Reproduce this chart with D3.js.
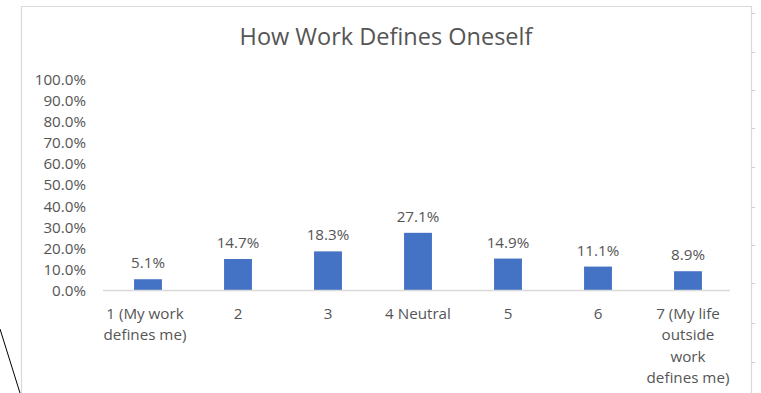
<!DOCTYPE html>
<html>
<head>
<meta charset="utf-8">
<script src="https://cdn.jsdelivr.net/npm/d3@7"></script>
<style>
  html, body { margin: 0; padding: 0; background: #ffffff; }
  svg { display: block; }
  text { font-family: "Open Sans", "Noto Sans", sans-serif; fill: #555555; }
</style>
</head>
<body>
<svg id="chart" width="761" height="393"></svg>
<script>
// ---- data ----
const title = "How Work Defines Oneself";
const categories = ["1 (My work defines me)", "2", "3", "4 Neutral", "5", "6", "7 (My life outside work defines me)"];
const categoryLines = [
  ["1 (My work", "defines me)"],
  ["2"],
  ["3"],
  ["4 Neutral"],
  ["5"],
  ["6"],
  ["7 (My life", "outside", "work", "defines me)"]
];
const values = [0.051, 0.147, 0.183, 0.271, 0.149, 0.111, 0.089];
const valueLabels = ["5.1%", "14.7%", "18.3%", "27.1%", "14.9%", "11.1%", "8.9%"];
const yTicks = [0, 0.1, 0.2, 0.3, 0.4, 0.5, 0.6, 0.7, 0.8, 0.9, 1.0];
const sheetRowTicks = [13, 52, 90, 128, 167, 207, 245, 283, 323, 362];

// ---- drawing ----
const svg = d3.select("#chart");
const fs = 15.2;

// chart frame
svg.append("path")
  .attr("d", "M21.5,393 L21.5,6.5 L751.5,6.5 L751.5,393")
  .attr("fill", "none").attr("stroke", "#d9d9d9").attr("stroke-width", 1.2);

// sheet row marks outside right border
svg.selectAll("line.rowtick").data(sheetRowTicks).enter().append("line")
  .attr("class", "rowtick")
  .attr("x1", 752).attr("x2", 755)
  .attr("y1", d => d + 0.5).attr("y2", d => d + 0.5)
  .attr("stroke", "#cfcfcf").attr("stroke-width", 1);

// diagonal black line at bottom-left
svg.append("line")
  .attr("x1", 0).attr("y1", 329).attr("x2", 20).attr("y2", 393)
  .attr("stroke", "#000").attr("stroke-width", 1);

const x = d3.scaleBand().domain(categories).range([103, 733]).paddingInner(0.69).paddingOuter(0.345);
const y = d3.scaleLinear().domain([0, 1]).range([290, 79]);

// title
svg.append("text")
  .attr("x", 386).attr("y", 45)
  .attr("text-anchor", "middle")
  .attr("font-size", 23.5)
  .text(title);

// y axis labels
const yAxis = d3.axisLeft(y).tickValues(yTicks).tickFormat(d3.format(".1%")).tickSize(0).tickPadding(0);
const gy = svg.append("g").attr("transform", "translate(86,0)").call(yAxis);
gy.select(".domain").remove();
gy.selectAll("text")
  .attr("font-size", fs)
  .attr("font-family", "'Open Sans', sans-serif")
  .attr("fill", "#555555")
  .attr("dy", "0.36em");

// bars
svg.selectAll("rect.bar").data(values).enter().append("rect")
  .attr("class", "bar")
  .attr("x", (d, i) => x(categories[i]))
  .attr("width", x.bandwidth())
  .attr("y", d => y(d))
  .attr("height", d => y(0) - y(d))
  .attr("fill", "#4472c4");

// x axis baseline
const xAxis = d3.axisBottom(x).tickSize(0).tickFormat("");
const gx = svg.append("g").attr("transform", `translate(0,${y(0)})`).call(xAxis);
gx.select(".domain").attr("d", "M103,0.5H730").attr("stroke", "#d9d9d9").attr("stroke-width", 1.3);
gx.selectAll(".tick").remove();

// category labels
categoryLines.forEach((lines, i) => {
  const cx = x(categories[i]) + x.bandwidth() / 2 - (i === 0 ? 3 : 0);
  const t = svg.append("text")
    .attr("text-anchor", "middle")
    .attr("font-size", fs);
  lines.forEach((ln, j) => {
    t.append("tspan").attr("x", cx).attr("y", 319 + j * 21.3).text(ln);
  });
});

// value labels
svg.selectAll("text.val").data(values).enter().append("text")
  .attr("class", "val")
  .attr("x", (d, i) => x(categories[i]) + x.bandwidth() / 2)
  .attr("y", d => y(d) - 11)
  .attr("text-anchor", "middle")
  .attr("font-size", fs)
  .text((d, i) => valueLabels[i]);
</script>
</body>
</html>
